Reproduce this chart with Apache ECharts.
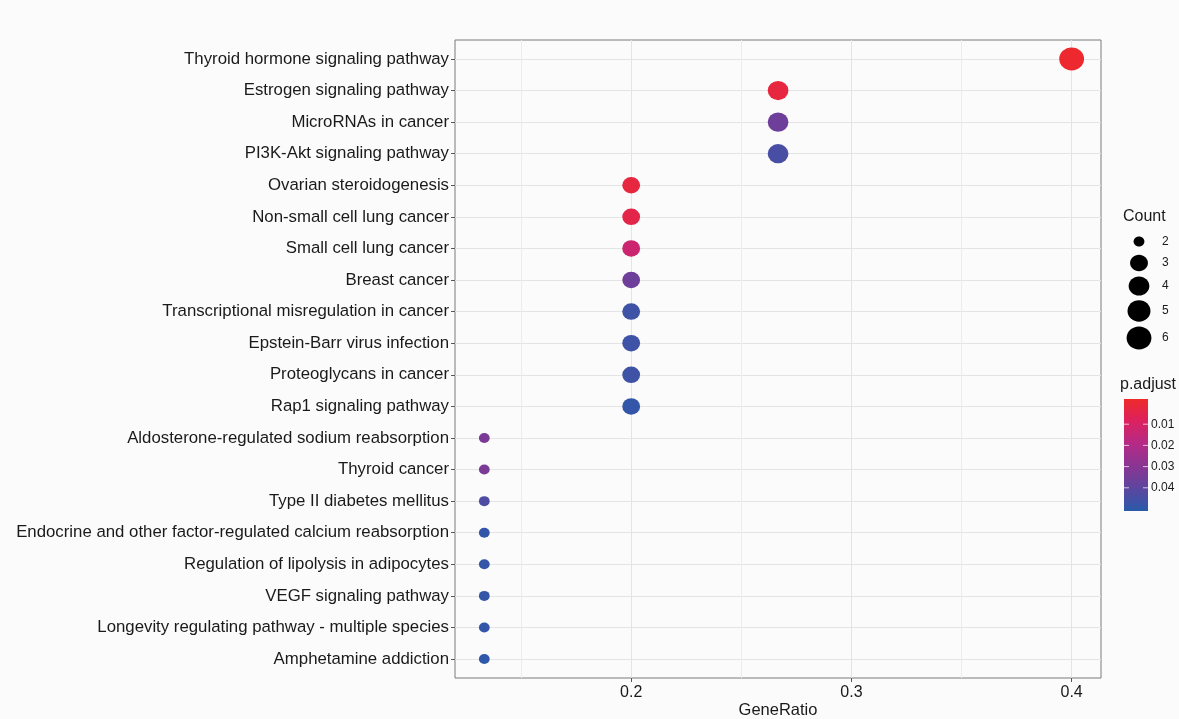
<!DOCTYPE html>
<html>
<head>
<meta charset="utf-8">
<script src="https://cdn.jsdelivr.net/npm/echarts@6/dist/echarts.min.js"></script>
<style>
  html, body { margin: 0; padding: 0; background: #fbfbfb; }
  #chart { width: 1179px; height: 719px; }
</style>
</head>
<body>
<div id="chart"></div>
<script>
// KEGG enrichment dot plot: GeneRatio vs pathway, sized by Count, coloured by p.adjust
const pathways = [
  'Thyroid hormone signaling pathway',
  'Estrogen signaling pathway',
  'MicroRNAs in cancer',
  'PI3K-Akt signaling pathway',
  'Ovarian steroidogenesis',
  'Non-small cell lung cancer',
  'Small cell lung cancer',
  'Breast cancer',
  'Transcriptional misregulation in cancer',
  'Epstein-Barr virus infection',
  'Proteoglycans in cancer',
  'Rap1 signaling pathway',
  'Aldosterone-regulated sodium reabsorption',
  'Thyroid cancer',
  'Type II diabetes mellitus',
  'Endocrine and other factor-regulated calcium reabsorption',
  'Regulation of lipolysis in adipocytes',
  'VEGF signaling pathway',
  'Longevity regulating pathway - multiple species',
  'Amphetamine addiction'
];
const geneRatio = [0.4, 0.2667, 0.2667, 0.2667, 0.2, 0.2, 0.2, 0.2, 0.2, 0.2, 0.2, 0.2,
                   0.1333, 0.1333, 0.1333, 0.1333, 0.1333, 0.1333, 0.1333, 0.1333];
const geneCount = [6, 4, 4, 4, 3, 3, 3, 3, 3, 3, 3, 3, 2, 2, 2, 2, 2, 2, 2, 2];
const pAdjust = [0.001, 0.004, 0.036, 0.044, 0.004, 0.006, 0.014, 0.036, 0.046, 0.046, 0.046, 0.048,
                 0.033, 0.033, 0.043, 0.048, 0.048, 0.048, 0.048, 0.049];

const xTicks = [0.2, 0.3, 0.4];
const xMinorTicks = [0.15, 0.25, 0.35];
const countLegend = [2, 3, 4, 5, 6];
const pLegendTicks = [0.01, 0.02, 0.03, 0.04];

const pMin = 0, pMax = 0.05;
const gradient = ['#EF2A2A', '#DC2160', '#B42A86', '#8A3593', '#5C469F', '#2A5AAA'];

// dot size (width, height) from gene count
function dotSize(count) {
  const h = 10 + 6.5 * Math.sqrt(count - 2);
  return [h * 1.08, h];
}

const FONT = 'Liberation Sans, Arial, Helvetica, sans-serif';
const TEXT = '#1a1a1a';
const points = pathways.map((p, i) => [geneRatio[i], i, geneCount[i], pAdjust[i]]);
const rowIdx = pathways.map((p, i) => i);

const chart = echarts.init(document.getElementById('chart'), null, { renderer: 'canvas' });

// size legend
const legendGraphics = [];
legendGraphics.push({
  type: 'text', x: 1123, y: 217,
  style: { text: 'Count', font: '16px ' + FONT, fill: TEXT, verticalAlign: 'middle' }
});
const countY = [241.5, 263, 286, 311, 338];
countLegend.forEach((c, k) => {
  const [w, h] = dotSize(c);
  legendGraphics.push({
    type: 'ellipse', shape: { cx: 1139, cy: countY[k], rx: w / 2, ry: h / 2 },
    style: { fill: '#000' }
  });
  legendGraphics.push({
    type: 'text', x: 1162, y: countY[k],
    style: { text: String(c), font: '12px ' + FONT, fill: TEXT, verticalAlign: 'middle' }
  });
});

// colour bar legend
const barX = 1124, barW = 24, barTop = 403, barH = 106;
legendGraphics.push({
  type: 'text', x: 1120, y: 385,
  style: { text: 'p.adjust', font: '16px ' + FONT, fill: TEXT, verticalAlign: 'middle' }
});
legendGraphics.push({
  type: 'rect', shape: { x: barX, y: 399, width: barW, height: barH + 6 },
  style: {
    fill: new echarts.graphic.LinearGradient(0, 0, 0, 1,
      gradient.map((c, k) => ({ offset: k / (gradient.length - 1), color: c })))
  }
});
pLegendTicks.forEach(v => {
  const y = barTop + (v - pMin) / (pMax - pMin) * barH;
  legendGraphics.push({
    type: 'line', shape: { x1: barX, y1: y, x2: barX + 5, y2: y },
    style: { stroke: 'rgba(255,255,255,0.7)', lineWidth: 1 }
  });
  legendGraphics.push({
    type: 'line', shape: { x1: barX + barW - 5, y1: y, x2: barX + barW, y2: y },
    style: { stroke: 'rgba(255,255,255,0.7)', lineWidth: 1 }
  });
  legendGraphics.push({
    type: 'text', x: 1151, y: y,
    style: { text: v.toFixed(2), font: '12px ' + FONT, fill: TEXT, verticalAlign: 'middle' }
  });
});

chart.setOption({
  backgroundColor: '#fbfbfb',
  animation: false,
  grid: {
    left: 455, top: 40, width: 646, height: 638,
    outerBoundsMode: 'none', containLabel: false,
    show: true, backgroundColor: '#fbfbfb', borderColor: '#7a7a7a', borderWidth: 1
  },
  xAxis: {
    type: 'value', min: 0.12, max: 0.41333,
    name: 'GeneRatio', nameLocation: 'middle', nameGap: 24, nameMoveOverlap: false,
    nameTextStyle: { fontSize: 16.5, color: TEXT, fontFamily: FONT, verticalAlign: 'top' },
    axisLine: { show: false, onZero: false },
    axisTick: { show: true, length: 4, customValues: xTicks, lineStyle: { color: '#555' } },
    axisLabel: { customValues: xTicks, fontSize: 16, color: TEXT, fontFamily: FONT, margin: 7,
                 formatter: v => String(+v.toFixed(1)) },
    splitLine: { show: true, lineStyle: { color: '#e4e4e4', width: 1 } }
  },
  yAxis: {
    type: 'value', min: -0.6, max: 19.6, inverse: true,
    axisLine: { show: false, onZero: false },
    axisTick: { show: true, length: 4, customValues: rowIdx, lineStyle: { color: '#555' } },
    axisLabel: { customValues: rowIdx, fontSize: 16.8, color: TEXT, fontFamily: FONT, margin: 6,
                 formatter: v => pathways[Math.round(v)] || '' },
    splitLine: { show: true, lineStyle: { color: '#e4e4e4', width: 1 } }
  },
  visualMap: {
    show: false, type: 'continuous', dimension: 3, seriesIndex: 1,
    min: pMin, max: pMax, inRange: { color: gradient }
  },
  series: [
    {
      // minor vertical grid lines
      type: 'line', data: [], silent: true, z: 1,
      markLine: {
        silent: true, symbol: 'none', label: { show: false },
        lineStyle: { color: '#ececec', width: 1, type: 'solid' },
        data: xMinorTicks.map(v => ({ xAxis: v }))
      }
    },
    {
      type: 'scatter', z: 3,
      data: points,
      symbol: 'circle',
      symbolSize: val => dotSize(val[2]),
      itemStyle: { opacity: 1 }
    }
  ],
  graphic: legendGraphics
});
</script>
</body>
</html>
